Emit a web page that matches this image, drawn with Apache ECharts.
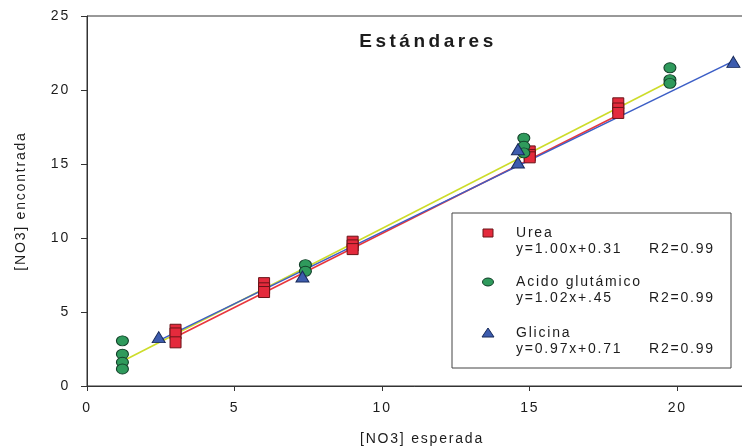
<!DOCTYPE html>
<html>
<head>
<meta charset="utf-8">
<script src="https://cdn.jsdelivr.net/npm/echarts@6/dist/echarts.min.js"></script>
<style>
  html, body { margin: 0; padding: 0; background: #fff; }
  #chart { width: 742px; height: 446px; }
</style>
</head>
<body>
<div id="chart"></div>
<script>
// Open-tracked lettering (bold heading wider than the rest), applied on the canvas itself
(function () {
  const proto = CanvasRenderingContext2D.prototype;
  const track = ctx => { ctx.letterSpacing = /bold/.test(ctx.font) ? '3.5px' : '1.8px'; };
  const fill = proto.fillText, measure = proto.measureText;
  proto.fillText = function () { track(this); return fill.apply(this, arguments); };
  proto.measureText = function () { track(this); return measure.apply(this, arguments); };
})();

// ---- data ----
const titleText = 'Estándares';
const xAxisName = '[NO3] esperada';
const yAxisName = '[NO3] encontrada';
const xTicks = [0, 5, 10, 15, 20];
const yTicks = [0, 5, 10, 15, 20, 25];

const seriesNames = ['Urea', 'Acido glutámico', 'Glicina'];

const ureaX = [3, 3, 3, 6, 6, 6, 9, 9, 9, 15, 15, 15, 18, 18, 18];
const ureaY = [3.8, 3.55, 2.95, 6.95, 6.6, 6.35, 9.75, 9.5, 9.25, 15.85, 15.6, 15.45, 19.1, 18.75, 18.45];

const gluX = [1.2, 1.2, 1.2, 1.2, 7.4, 7.4, 14.8, 14.8, 14.8, 19.75, 19.75, 19.75];
const gluY = [3.05, 2.15, 1.6, 1.15, 8.2, 7.75, 16.75, 16.2, 15.75, 21.5, 20.7, 20.45];

const gliX = [2.43, 7.3, 14.6, 14.6, 21.9];
const gliY = [3.3, 7.4, 16.0, 15.1, 21.9];

const slopes = [1.00, 1.02, 0.97];
const intercepts = [0.31, 0.45, 0.71];
const equations = ['y=1.00x+0.31', 'y=1.02x+.45', 'y=0.97x+0.71'];
const r2Labels = ['R2=0.99', 'R2=0.99', 'R2=0.99'];

// ---- styling ----
const FONT = '"Liberation Sans", Arial, sans-serif';
const TEXT = '#1c1c1c';
const markerFill = ['#e42a3c', '#2f9a5c', '#3d5cae'];
const markerEdge = ['#6a1418', '#14402a', '#182a5a'];
const lineColor = ['#e8363c', '#cddc2a', '#3c5ec6'];
const ELLIPSE = 'path://M0 50A50 50 0 1 1 100 50A50 50 0 1 1 0 50Z';
const symbols = ['rect', ELLIPSE, 'triangle'];
const symbolSizes = [[11, 11], [12, 10], [13, 11]];

const xs = [ureaX, gluX, gliX];
const ys = [ureaY, gluY, gliY];

const pairs = (a, b) => a.map((v, i) => [v, b[i]]);

const series = [];
// fitted lines, drawn across each data range
xs.forEach((xArr, k) => {
  const lo = Math.min(...xArr), hi = Math.max(...xArr);
  series.push({
    type: 'line',
    name: seriesNames[k] + ' ajuste',
    data: [[lo, slopes[k] * lo + intercepts[k]], [hi, slopes[k] * hi + intercepts[k]]],
    symbol: 'none',
    silent: true,
    z: 2,
    lineStyle: { color: lineColor[k], width: 1.6 }
  });
});
// measured points
xs.forEach((xArr, k) => {
  series.push({
    type: 'scatter',
    name: seriesNames[k],
    data: pairs(xArr, ys[k]),
    symbol: symbols[k],
    symbolSize: symbolSizes[k],
    z: 3,
    itemStyle: { color: markerFill[k], borderColor: markerEdge[k], borderWidth: 1, opacity: 1 }
  });
});

// legend box with equations
const LX = 452, LY = 213, LW = 279, LH = 155;
const legendEls = [{
  type: 'rect',
  shape: { x: LX, y: LY, width: LW, height: LH },
  style: { fill: '#fff', stroke: '#444', lineWidth: 1 },
  z: 10
}];
const rowY = [233, 282, 333];
seriesNames.forEach((name, k) => {
  const cy = rowY[k];
  let marker;
  if (k === 0) {
    marker = { type: 'rect', shape: { x: 483, y: cy - 4, width: 10, height: 8 } };
  } else if (k === 1) {
    marker = { type: 'ellipse', shape: { cx: 488, cy: cy, rx: 5.5, ry: 4 } };
  } else {
    marker = { type: 'polygon', shape: { points: [[488, cy - 5], [494, cy + 4], [482, cy + 4]] } };
  }
  marker.style = { fill: markerFill[k], stroke: markerEdge[k], lineWidth: 1 };
  marker.z = 11;
  legendEls.push(marker);
  const txt = (t, x, y) => ({
    type: 'text', x: x, y: y, z: 11,
    style: { text: t, font: '14px ' + FONT, fill: TEXT, align: 'left', verticalAlign: 'middle' }
  });
  legendEls.push(txt(name, 516, cy));
  legendEls.push(txt(equations[k], 516, cy + 16));
  legendEls.push(txt(r2Labels[k], 649, cy + 16));
});

const option = {
  animation: false,
  backgroundColor: '#fff',
  grid: {
    left: 87, top: 16, right: -15, bottom: 60,
    containLabel: false, outerBoundsMode: 'none',
    show: true, borderColor: '#333', borderWidth: 1, backgroundColor: 'transparent'
  },
  xAxis: {
    type: 'value', min: 0, max: 22.7, interval: 5,
    name: xAxisName, nameLocation: 'middle', nameGap: 45,
    nameTextStyle: { fontFamily: FONT, fontSize: 14, color: TEXT },
    axisLine: { show: true, onZero: false, lineStyle: { color: '#333', width: 1 } },
    axisTick: { show: true, inside: false, length: 5, lineStyle: { color: '#333' } },
    axisLabel: {
      fontFamily: FONT, fontSize: 14, color: TEXT, margin: 14, showMaxLabel: false,
      formatter: v => (xTicks.includes(v) ? String(v) : '')
    },
    splitLine: { show: false }
  },
  yAxis: {
    type: 'value', min: 0, max: 25, interval: 5,
    name: yAxisName, nameLocation: 'middle', nameGap: 58, nameRotate: 90,
    nameTextStyle: { fontFamily: FONT, fontSize: 14, color: TEXT },
    axisLine: { show: true, onZero: false, lineStyle: { color: '#333', width: 1 } },
    axisTick: { show: true, inside: false, length: 6, lineStyle: { color: '#333' } },
    axisLabel: {
      fontFamily: FONT, fontSize: 14, color: TEXT, margin: 17,
      formatter: v => (yTicks.includes(v) ? String(v) : '')
    },
    splitLine: { show: false }
  },
  graphic: [{
    type: 'text', x: 428, y: 42, z: 10,
    style: { text: titleText, font: 'bold 19px ' + FONT, fill: TEXT, align: 'center', verticalAlign: 'middle' }
  }].concat(legendEls),
  series: series
};

const chart = echarts.init(document.getElementById('chart'), null, { renderer: 'canvas' });
chart.setOption(option);
</script>
</body>
</html>
